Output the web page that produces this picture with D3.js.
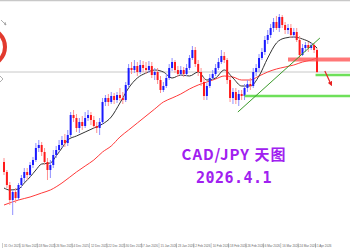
<!DOCTYPE html>
<html>
<head>
<meta charset="utf-8">
<script src="https://cdn.jsdelivr.net/npm/d3@7"></script>
<style>
  html, body { margin: 0; padding: 0; background: #fff; }
  svg { display: block; }
</style>
</head>
<body>
<svg id="chart" width="350" height="250"></svg>
<script>
// CAD/JPY daily candles
var opens  = [107.90,107.40,106.75,106.00,106.40,106.10,106.75,107.10,107.40,107.25,107.75,108.00,108.60,108.75,108.40,107.90,107.50,107.75,108.25,108.50,108.75,109.00,108.85,109.25,110.25,110.10,109.60,109.90,109.70,110.10,110.25,110.00,109.70,109.60,109.90,110.90,111.10,110.90,111.20,111.00,111.25,111.10,111.00,111.75,112.60,112.50,112.70,112.40,112.75,112.60,112.50,112.70,112.25,112.40,112.00,111.50,111.70,112.10,112.60,112.90,112.50,112.30,112.50,112.30,112.60,113.10,113.50,112.80,112.40,111.90,111.20,111.70,112.10,112.30,112.60,112.90,113.20,113.00,112.00,111.10,111.40,111.00,111.30,111.20,111.60,111.80,111.70,112.40,112.60,113.10,113.40,114.00,114.25,114.60,114.90,114.60,115.15,114.75,114.50,114.60,114.25,114.40,114.00,113.25,113.60,113.75,113.60,113.75,113.50];
var highs  = [108.10,107.50,106.90,106.50,106.60,106.85,107.25,107.60,107.60,107.90,108.15,108.85,109.00,108.90,108.60,108.10,108.00,108.50,108.70,109.00,109.20,109.30,109.50,110.40,110.50,110.30,110.10,110.20,110.40,110.50,110.40,110.20,109.90,110.10,111.10,111.25,111.30,111.40,111.35,111.40,111.60,111.40,111.90,112.80,112.90,113.00,112.90,113.00,112.95,112.90,112.95,112.90,112.60,112.60,112.20,111.90,112.30,112.80,113.10,113.00,112.70,112.70,112.65,112.80,113.25,113.70,113.65,113.00,112.60,112.10,111.85,112.30,112.50,112.80,113.10,113.50,113.40,113.10,112.20,111.60,111.60,111.50,111.50,111.80,112.00,112.10,112.60,112.80,113.30,113.60,114.20,114.50,114.80,115.10,115.20,115.30,115.25,114.90,114.80,114.80,114.60,114.60,114.20,113.80,113.90,113.90,113.85,113.85,113.60];
var lows   = [107.25,106.60,105.75,105.25,105.85,106.00,106.60,106.90,107.00,107.15,107.60,107.90,108.40,108.20,107.75,107.00,107.10,107.60,108.10,108.40,108.60,108.65,108.70,109.15,109.90,109.40,109.35,109.50,109.60,109.95,109.75,109.60,109.35,109.25,109.75,110.70,110.70,110.80,110.80,110.85,110.95,110.80,110.90,111.60,112.30,112.35,112.20,112.30,112.40,112.30,112.35,112.10,112.00,111.80,111.35,111.40,111.60,112.00,112.45,112.35,112.15,112.20,112.15,112.20,112.50,113.00,112.65,112.20,111.70,111.00,111.00,111.60,112.00,112.20,112.50,112.80,112.85,111.80,110.90,110.80,110.80,110.70,111.00,111.00,111.40,111.50,111.60,112.20,112.40,113.00,113.25,113.80,114.10,114.40,114.50,114.40,114.60,114.30,114.30,114.10,114.10,113.90,113.10,113.20,113.40,113.40,113.50,113.35,112.35];
var closes = [107.40,106.75,106.00,106.40,106.10,106.75,107.10,107.40,107.25,107.75,108.00,108.60,108.75,108.40,107.90,107.50,107.75,108.25,108.50,108.75,109.00,108.85,109.25,110.25,110.10,109.60,109.90,109.70,110.10,110.25,110.00,109.70,109.60,109.90,110.90,111.10,110.90,111.20,111.00,111.25,111.10,111.00,111.75,112.60,112.50,112.70,112.40,112.75,112.60,112.50,112.70,112.25,112.40,112.00,111.50,111.70,112.10,112.60,112.90,112.50,112.30,112.50,112.30,112.60,113.10,113.50,112.80,112.40,111.90,111.20,111.70,112.10,112.30,112.60,112.90,113.20,113.00,112.00,111.10,111.40,111.00,111.30,111.20,111.60,111.80,111.70,112.40,112.60,113.10,113.40,114.00,114.25,114.60,114.90,114.60,115.15,114.75,114.50,114.60,114.25,114.40,114.00,113.25,113.60,113.75,113.60,113.75,113.50,112.40];

// moving averages, sampled at these candle indices
var maIdx  = [0,2,5,7,9,11,13,16,18,20,22,25,28,31,34,37,40,43,46,49,52,55,58,61,64,67,70,73,76,79,82,85,88,91,94,97,100,103,106,108];
var maFast = [106.60,106.50,106.55,106.85,107.15,107.50,107.80,107.85,108.20,108.60,109.00,109.20,109.40,109.60,109.80,110.15,110.85,111.60,112.10,112.35,112.50,112.40,112.10,112.25,112.20,112.40,112.00,112.10,112.50,112.10,111.70,111.70,112.20,113.10,113.85,114.10,114.15,114.05,113.85,113.60];
var slowIdx = [0,5,9,13,16,20,25,28,31,34,37,40,43,46,49,52,55,58,61,64,67,70,73,76,79,82,85,88,91,94,97,100,103,106,108];
var maSlow  = [105.75,106.00,106.15,106.35,106.50,106.85,107.40,107.70,108.00,108.40,108.70,109.15,109.50,109.85,110.20,110.55,110.90,111.10,111.30,111.55,111.75,111.90,112.05,112.20,112.15,112.00,112.00,112.20,112.40,112.55,112.65,112.75,112.90,113.00,113.10];

// drawn levels: [startIndex, price]
var resistance = [[98, 113.02]];
var supports   = [[107.5, 112.25], [83, 111.20]];
var trendLine  = [[80.7, 110.40], [109, 114.10]];
var arrowPts   = [[110.7, 112.45], [112.8, 111.80]];

var tickIdx    = [0,6,12,18,24,30,36,42,48,54,60,66,72,78,84,90,96,102,108];
var tickLabels = ["31 Oct 2025","10 Nov 2025","18 Nov 2025","26 Nov 2025","4 Dec 2025","12 Dec 2025","22 Dec 2025","30 Dec 2025","7 Jan 2026","15 Jan 2026","23 Jan 2026","2 Feb 2026","10 Feb 2026","18 Feb 2026","26 Feb 2026","6 Mar 2026","16 Mar 2026","24 Mar 2026","1 Apr 2026"];

var svg = d3.select("#chart");
var W = 350, H = 250;

var x = d3.scaleLinear().domain([0, 108]).range([4, 317]);
var y = d3.scaleLinear().domain([104, 116]).range([240, 0]);

// top border
svg.append("line").attr("x1", 0).attr("x2", W).attr("y1", 0.5).attr("y2", 0.5)
    .attr("stroke", "#c8c8c8").attr("stroke-width", 1.5);

// logo ring cut off at the left edge
svg.append("circle").attr("cx", -13.5).attr("cy", 47).attr("r", 18.5)
    .attr("fill", "none").attr("stroke", "#e23a2e").attr("stroke-width", 4);
svg.append("path").attr("d", "M1,20 L6,25 M4,24 L6,25 L5,22").attr("stroke", "#999").attr("fill", "none").attr("stroke-width", 0.8);
svg.append("path").attr("d", "M0,76 L3,79 L0,82").attr("stroke", "#999").attr("fill", "none").attr("stroke-width", 0.8);

// current price line
svg.append("line").attr("x1", 0).attr("x2", W)
    .attr("y1", y(closes[closes.length - 1])).attr("y2", y(closes[closes.length - 1]))
    .attr("stroke", "#c8c8c8").attr("stroke-width", 1);

// moving averages
var fastLine = d3.line().x(function (d) { return x(d[0]) }).y(function (d) { return y(d[1]) }).curve(d3.curveMonotoneX);
svg.append("path").datum(slowIdx.map(function (d, i) { return [d, maSlow[i]] }))
    .attr("d", fastLine).attr("fill", "none").attr("stroke", "#ff3a3a").attr("stroke-width", 1);
svg.append("path").datum(maIdx.map(function (d, i) { return [d, maFast[i]] }))
    .attr("d", fastLine).attr("fill", "none").attr("stroke", "#333").attr("stroke-width", 1);

// candles
var candles = closes.map(function (c, i) {
    return { i: i, o: opens[i], h: highs[i], l: lows[i], c: c };
});
var g = svg.append("g");
g.selectAll(".wick").data(candles).enter().append("line")
    .attr("x1", function (d) { return x(d.i) }).attr("x2", function (d) { return x(d.i) })
    .attr("y1", function (d) { return y(d.h) }).attr("y2", function (d) { return y(d.l) })
    .attr("stroke", function (d) { return d.c >= d.o ? "#8f8fff" : "#ff9090" })
    .attr("stroke-width", 1);
g.selectAll(".body").data(candles).enter().append("rect")
    .attr("x", function (d) { return x(d.i) - 1 })
    .attr("width", 2)
    .attr("y", function (d) { return y(Math.max(d.o, d.c)) })
    .attr("height", function (d) { return Math.max(1, Math.abs(y(d.o) - y(d.c))) })
    .attr("fill", function (d) { return d.c >= d.o ? "#1a1aff" : "#ff1a1a" });

// resistance band
resistance.forEach(function (r) {
    svg.append("line").attr("x1", x(r[0])).attr("x2", W)
        .attr("y1", y(r[1])).attr("y2", y(r[1]))
        .attr("stroke", "#ff5555").attr("stroke-opacity", 0.8).attr("stroke-width", 4);
});
// support lines
supports.forEach(function (s) {
    svg.append("line").attr("x1", x(s[0])).attr("x2", W)
        .attr("y1", y(s[1])).attr("y2", y(s[1]))
        .attr("stroke", "#6ee05a").attr("stroke-width", 2.5);
});
// trend line
svg.append("line")
    .attr("x1", x(trendLine[0][0])).attr("y1", y(trendLine[0][1]))
    .attr("x2", x(trendLine[1][0])).attr("y2", y(trendLine[1][1]))
    .attr("stroke", "#3a9a2a").attr("stroke-width", 1);

// arrow
svg.append("defs").append("marker").attr("id", "arr")
    .attr("viewBox", "0 0 10 10").attr("refX", 5).attr("refY", 5)
    .attr("markerWidth", 4).attr("markerHeight", 4).attr("orient", "auto")
    .append("path").attr("d", "M0,0 L10,5 L0,10 Z").attr("fill", "#e82020");
svg.append("line")
    .attr("x1", x(arrowPts[0][0])).attr("y1", y(arrowPts[0][1]))
    .attr("x2", x(arrowPts[1][0])).attr("y2", y(arrowPts[1][1]))
    .attr("stroke", "#e82020").attr("stroke-width", 1.2).attr("marker-end", "url(#arr)");

// title
svg.append("text").attr("x", 234).attr("y", 160).attr("text-anchor", "middle")
    .attr("font-family", "'Noto Sans CJK SC', sans-serif").attr("font-weight", "bold")
    .attr("font-size", 15).attr("letter-spacing", 1).attr("fill", "#a020f0")
    .text("CAD/JPY 天图");
svg.append("text").attr("x", 234).attr("y", 183).attr("text-anchor", "middle")
    .attr("font-family", "'DejaVu Sans Mono', monospace").attr("font-weight", "bold")
    .attr("font-size", 15).attr("letter-spacing", 0.5).attr("fill", "#a020f0")
    .text("2026.4.1");

// time axis
var ax = svg.append("g");
ax.selectAll("line").data(tickIdx).enter().append("line")
    .attr("x1", function (d) { return x(d) - 1.5 }).attr("x2", function (d) { return x(d) - 1.5 })
    .attr("y1", 243).attr("y2", 248).attr("stroke", "#999").attr("stroke-width", 0.5);
ax.selectAll("text").data(tickIdx).enter().append("text")
    .attr("x", function (d) { return x(d) }).attr("y", 246.5)
    .attr("font-family", "Arial, 'Liberation Sans', sans-serif").attr("font-size", 3)
    .attr("fill", "#666")
    .text(function (d, i) { return tickLabels[i] });
</script>
</body>
</html>
